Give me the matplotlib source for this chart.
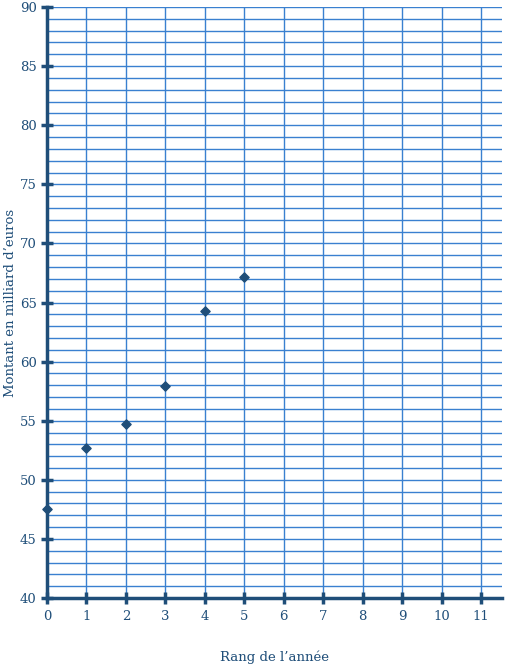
import numpy as np
import matplotlib.pyplot as plt

# Data
rang = [0, 1, 2, 3, 4, 5]
montant = [47.5, 52.7, 54.7, 57.9, 64.3, 67.2]

x_ticks = list(range(0, 12))
y_ticks = list(range(40, 91, 5))

grid_col = '#3a80d0'
axis_col = '#1f4e79'

plt.rcParams['font.family'] = ['DejaVu Serif']

fig = plt.figure(figsize=(5.09, 6.69), dpi=100)
ax = fig.add_axes([0.0923, 0.1061, 0.8937, 0.8834])

ax.set_xlim(0, 11.53)
ax.set_ylim(40, 90)

# Grid: every unit on x, every unit on y
for xv in np.arange(1, 12):
    ax.axvline(xv, color=grid_col, lw=1.0, zorder=1)
for yv in np.arange(41, 91):
    ax.axhline(yv, color=grid_col, lw=1.0, zorder=1)

ax.scatter(rang, montant, marker='D', s=22, color=axis_col, zorder=5, clip_on=False)

for side in ['top', 'right']:
    ax.spines[side].set_visible(False)
for side in ['left', 'bottom']:
    ax.spines[side].set_color(axis_col)
    ax.spines[side].set_linewidth(2.5)
    ax.spines[side].set_zorder(4)

ax.set_xticks(x_ticks)
ax.set_yticks(y_ticks)
ax.tick_params(axis='both', direction='inout', length=9, width=2.5, color=axis_col,
               labelcolor=axis_col, labelsize=9.5)
ax.tick_params(axis='x', pad=4)
ax.tick_params(axis='y', pad=3)

ax.set_xlabel("Rang de l\u2019année", color=axis_col, fontsize=9.5, labelpad=20)
ax.set_ylabel("Montant en milliard d\u2019euros", color=axis_col, fontsize=9.5, labelpad=2)

fig.savefig('out.png', dpi=100)
